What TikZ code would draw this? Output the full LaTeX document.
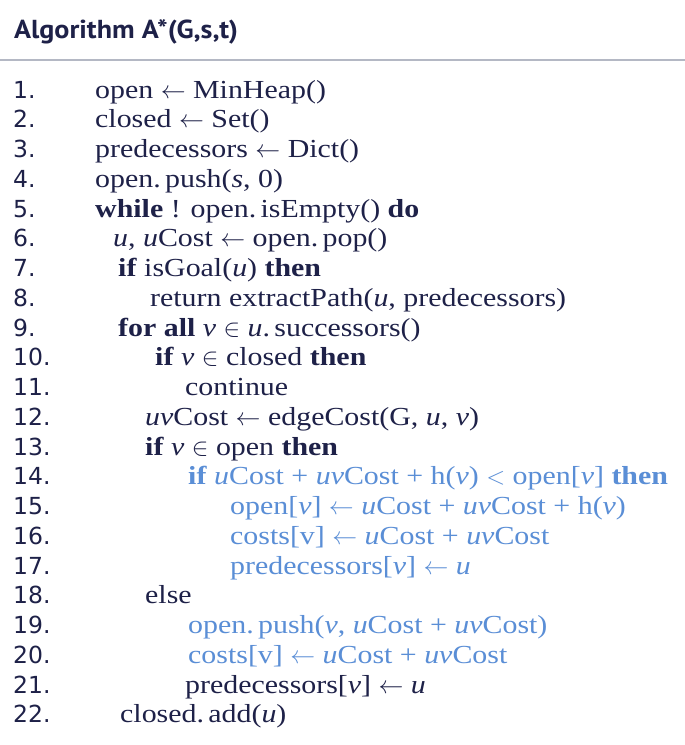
\documentclass[tikz,border=0pt]{standalone}
\usepackage{fontspec}
\usepackage{amssymb}
\usepackage{xcolor}
\usepackage{tikz}
\setmainfont{Liberation Serif}[FakeStretch=1.15]
\newfontfamily\labelfont{PT Sans}[FakeStretch=1.08]
\newfontfamily\numfont{DejaVu Sans}
\newcommand{\mvar}[1]{\textit{#1}}
\definecolor{codeink}{HTML}{1E2148}
\definecolor{codeblue}{HTML}{5A8ED6}
\definecolor{rulegrey}{HTML}{B4B8C4}

\begin{document}
\begin{tikzpicture}[x=1pt,y=-1pt]
\tikzstyle{every node}+=[inner sep=0pt]
\tikzstyle{heading}=[anchor=base west, font=\labelfont\bfseries\fontsize{26}{26}\selectfont, text=codeink]
\tikzstyle{lineno}=[anchor=base west, font=\numfont\fontsize{23.5}{24}\selectfont, text=codeink]
\tikzstyle{code}=[anchor=base west, font=\fontsize{26}{26}\selectfont, text=codeink]
\tikzstyle{hl}=[code, text=codeblue]
\fill [white] (0,0) rectangle (685,745);
\useasboundingbox (0,0) rectangle (685,745);
% heading and rule
\node [heading] (title) at (14,38) {Algorithm A*(G,s,t)};
\coordinate (ruleL) at (0,60);
\coordinate (ruleR) at (685,60);
\draw [rulegrey, line width=1.2] (ruleL) -- (ruleR);
% line numbers
\foreach \i in {1,...,22}
  \node [lineno] (n\i) at (13,{98+29.75*(\i-1)}) {\i.};
% code lines
\node [code] (c1) at (95,98) {open $\leftarrow$ MinHeap()};
\node [code] (c2) at (95,127.75) {closed $\leftarrow$ Set()};
\node [code] (c3) at (95,157.5) {predecessors $\leftarrow$ Dict()};
\node [code] (c4) at (95,187.25) {open.\,push(\mvar{s}, 0)};
\node [code] (c5) at (95,217) {\textbf{while} ! open.\,isEmpty() \textbf{do}};
\node [code] (c6) at (113,246.75) {\mvar{u}, \mvar{u}Cost $\leftarrow$ open.\,pop()};
\node [code] (c7) at (118,276.5) {\textbf{if} isGoal(\mvar{u}) \textbf{then}};
\node [code] (c8) at (150,306.25) {return extractPath(\mvar{u}, predecessors)};
\node [code] (c9) at (118,336) {\textbf{for all} \mvar{v} $\in$ \mvar{u}.\,successors()};
\node [code] (c10) at (155,365.75) {\textbf{if} \mvar{v} $\in$ closed \textbf{then}};
\node [code] (c11) at (185,395.5) {continue};
\node [code] (c12) at (145,425.25) {\mvar{uv}Cost $\leftarrow$ edgeCost(G, \mvar{u}, \mvar{v})};
\node [code] (c13) at (145,455) {\textbf{if} \mvar{v} $\in$ open \textbf{then}};
\node [hl] (c14) at (188,484.75) {\textbf{if} \mvar{u}Cost + \mvar{uv}Cost + h(\mvar{v}) $<$ open[\mvar{v}] \textbf{then}};
\node [hl] (c15) at (230,514.5) {open[\mvar{v}] $\leftarrow$ \mvar{u}Cost + \mvar{uv}Cost + h(\mvar{v})};
\node [hl] (c16) at (230,544.25) {costs[v] $\leftarrow$ \mvar{u}Cost + \mvar{uv}Cost};
\node [hl] (c17) at (230,574) {predecessors[\mvar{v}] $\leftarrow$ \mvar{u}};
\node [code] (c18) at (145,603.75) {else};
\node [hl] (c19) at (188,633.5) {open.\,push(\mvar{v}, \mvar{u}Cost + \mvar{uv}Cost)};
\node [hl] (c20) at (188,663.25) {costs[v] $\leftarrow$ \mvar{u}Cost + \mvar{uv}Cost};
\node [code] (c21) at (185,693) {predecessors[\mvar{v}] $\leftarrow$ \mvar{u}};
\node [code] (c22) at (120,722.75) {closed.\,add(\mvar{u})};
\end{tikzpicture}
\end{document}
